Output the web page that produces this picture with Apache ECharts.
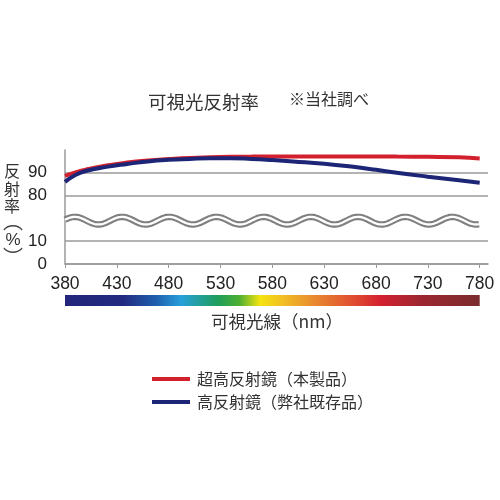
<!DOCTYPE html>
<html>
<head>
<meta charset="utf-8">
<script src="https://cdn.jsdelivr.net/npm/echarts@6/dist/echarts.min.js"></script>
<style>
  html, body { margin: 0; padding: 0; background: #fff; }
  #chart { width: 500px; height: 500px; }
</style>
</head>
<body>
<div id="chart"></div>
<script>
// wavelength (nm) and reflectance (%)
const wavelengths = [380, 390, 400, 420, 440, 460, 480, 500, 520, 540, 560, 580, 600, 630, 660, 680, 700, 730, 760, 780]
const superHigh = [88.7, 90.2, 91.4, 93.2, 94.5, 95.4, 96.0, 96.5, 96.8, 97.0, 97.1, 97.2, 97.2, 97.2, 97.2, 97.2, 97.1, 97.0, 96.8, 96.3]
const highOld = [86.0, 89.0, 90.8, 92.6, 93.9, 95.0, 95.7, 96.1, 96.4, 96.4, 96.1, 95.6, 95.0, 94.0, 92.5, 91.3, 90.0, 88.3, 86.7, 85.6]
const xTicks = [380, 430, 480, 530, 580, 630, 680, 730, 780]
const yTickLabels = { 0: '0', 10: '10', 30: '80', 40: '90' }
const seriesNames = ['超高反射鏡（本製品）', '高反射鏡（弊社既存品）']

const cjk = "'Noto Sans CJK JP', sans-serif"
const num = "'Liberation Sans', Arial, sans-serif"

// broken y axis: 0-10 kept, 10-80 squeezed out, 80-100 shifted down
function toDisplay(v) {
  return v <= 10 ? v : v - 50
}
function pairs(vals) {
  return wavelengths.map((w, i) => [w, toDisplay(vals[i])])
}

const chart = echarts.init(document.getElementById('chart'))
const grey = '#9a9a9a'
const clear = 'rgba(0,0,0,0)'

chart.setOption({
  animation: false,
  grid: { left: 65, right: 12, top: 150, bottom: 236 },
  title: {
    text: '可視光反射率',
    left: 143,
    top: 88,
    textStyle: { fontFamily: cjk, fontSize: 18.5, fontWeight: 'normal', color: '#333' }
  },
  legend: {
    orient: 'vertical',
    left: 152,
    top: 371,
    padding: 0,
    itemWidth: 38,
    itemHeight: 4,
    itemGap: 7,
    icon: 'rect',
    data: seriesNames,
    textStyle: { fontFamily: cjk, fontSize: 16, color: '#333', padding: [0, 0, 0, 2] }
  },
  xAxis: {
    type: 'value',
    min: 380,
    max: 788,
    interval: 50,
    axisLine: { lineStyle: { color: grey, width: 1.5 } },
    axisTick: { show: true, customValues: xTicks, length: 4, lineStyle: { color: grey } },
    axisLabel: {
      customValues: xTicks,
      margin: 11,
      fontFamily: num,
      fontSize: 17.5,
      color: '#222'
    },
    splitLine: { show: false }
  },
  yAxis: {
    type: 'value',
    min: 0,
    max: 50,
    interval: 10,
    axisLine: { show: true, lineStyle: { color: grey, width: 1.5 } },
    axisTick: { show: false },
    axisLabel: {
      margin: 18,
      fontFamily: num,
      fontSize: 17,
      color: '#222',
      formatter: v => yTickLabels[v] || ''
    },
    splitLine: {
      show: true,
      lineStyle: { color: [grey, grey, clear, grey, grey, clear], width: 1.5 }
    }
  },
  series: [
    {
      name: seriesNames[0],
      type: 'line',
      smooth: true,
      showSymbol: false,
      lineStyle: { color: '#d3202e', width: 4 },
      itemStyle: { color: '#d3202e' },
      data: pairs(superHigh)
    },
    {
      name: seriesNames[1],
      type: 'line',
      smooth: true,
      showSymbol: false,
      lineStyle: { color: '#1d2577', width: 4 },
      itemStyle: { color: '#1d2577' },
      data: pairs(highOld)
    }
  ]
})

// decorations: break wave, spectrum bar, axis name, note
const left = chart.convertToPixel({ gridIndex: 0 }, [380, 0])
const right = chart.convertToPixel({ gridIndex: 0 }, [780, 0])
const mid = chart.convertToPixel({ gridIndex: 0 }, [380, 19])
const crest = chart.convertToPixel({ gridIndex: 0 }, [435, 0])[0]
const period = 47.2
const amp = 3.8
const wave = []
for (let x = left[0]; x <= right[0]; x += 1) {
  wave.push([x, mid[1] - amp * Math.cos(2 * Math.PI * (x - crest) / period)])
}

chart.setOption({
  graphic: [
    { type: 'polyline', shape: { points: wave }, style: { stroke: '#808080', lineWidth: 6.5, fill: null }, z: 10 },
    { type: 'polyline', shape: { points: wave }, style: { stroke: '#fff', lineWidth: 2.3, fill: null }, z: 11 },
    {
      type: 'rect',
      shape: { x: left[0], y: 295, width: right[0] - left[0], height: 11 },
      style: {
        fill: new echarts.graphic.LinearGradient(0, 0, 1, 0, [
          { offset: 0, color: '#23267a' },
          { offset: 0.14, color: '#222a80' },
          { offset: 0.22, color: '#1f5fae' },
          { offset: 0.28, color: '#27a0da' },
          { offset: 0.37, color: '#1f9e5a' },
          { offset: 0.42, color: '#4cae32' },
          { offset: 0.47, color: '#f4e410' },
          { offset: 0.52, color: '#f2c222' },
          { offset: 0.6, color: '#e88a30' },
          { offset: 0.7, color: '#e04a30' },
          { offset: 0.76, color: '#d42030' },
          { offset: 0.86, color: '#9c2630' },
          { offset: 1, color: '#7a2c2e' }
        ])
      }
    },
    {
      type: 'text',
      left: 211,
      top: 313,
      style: { text: '可視光線（nm）', font: '17.5px ' + cjk, fill: '#333' }
    },
    {
      type: 'text',
      left: 289,
      top: 91,
      style: { text: '※当社調べ', font: '16px ' + cjk, fill: '#333' }
    },
    {
      type: 'text',
      x: 12,
      y: 162.5,
      style: { text: '反\n射\n率', font: '16px ' + cjk, lineHeight: 17.5, align: 'center', fill: '#333' }
    },
    {
      type: 'text',
      x: 13,
      y: 221,
      style: { text: '︵', font: '20px ' + cjk, align: 'center', verticalAlign: 'middle', fill: '#444' }
    },
    {
      type: 'text',
      x: 13,
      y: 240,
      style: { text: '%', font: '17px ' + num, align: 'center', verticalAlign: 'middle', fill: '#333' }
    },
    {
      type: 'text',
      x: 13,
      y: 257,
      style: { text: '︶', font: '20px ' + cjk, align: 'center', verticalAlign: 'middle', fill: '#444' }
    }
  ]
})
</script>
</body>
</html>
